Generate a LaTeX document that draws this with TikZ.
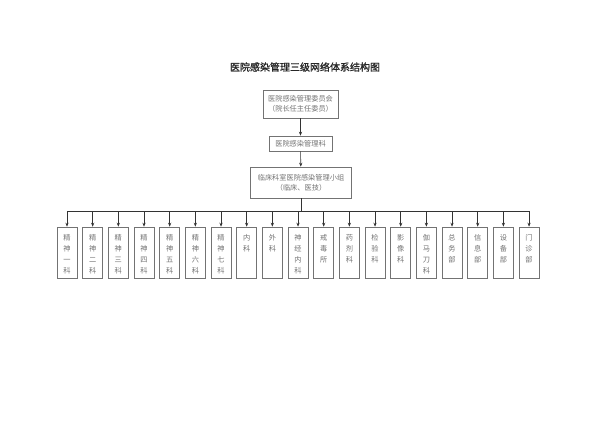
\documentclass[tikz,border=0pt]{standalone}
\usepackage{fontspec}
\newfontfamily\cjk{Noto Sans CJK SC}
\newfontfamily\cjkhead[FakeBold=1.2]{Noto Sans CJK SC}
\usetikzlibrary{arrows.meta,shadows}

\tikzset{
  box/.style={draw=black!55, line width=0.6pt, fill=white, inner sep=1pt, align=center,
    text=black!55, font=\cjk\fontsize{7.2}{10}\selectfont,
    drop shadow={shadow xshift=0.7pt, shadow yshift=-0.7pt, fill=black!45, opacity=1}},
  unit/.style={box, minimum width=20pt, minimum height=51pt, inner sep=0pt},
  link/.style={draw=black!80, line width=0.6pt},
  arr/.style={link, -{Stealth[length=4pt,width=3.2pt]}}
}

\begin{document}
\begin{tikzpicture}[x=1pt,y=-1pt]
  \useasboundingbox (0,0) rectangle (600,424);
  \node[font=\cjkhead\fontsize{10}{12}\selectfont, text=black!85] (title) at (305,67) {医院感染管理三级网络体系结构图};
  \node[box, minimum width=75pt, minimum height=28pt] (comm) at (300.5,104)
    {医院感染管理委员会\\（院长任主任委员）};
  \node[box, minimum width=63pt, minimum height=15pt] (dept) at (300.5,143.5) {医院感染管理科};
  \node[box, minimum width=101pt, minimum height=31pt] (grp) at (301,182.5)
    {临床科室医院感染管理小组\\（临床、医技）};
  \draw[arr] (comm) -- (dept);
  \draw[arr] (dept) -- (grp);
  \coordinate (bus) at (301,211);
  \draw[link] (grp.south) -- (bus);
  \foreach \t [count=\i] in {{精\\神\\一\\科},{精\\神\\二\\科},{精\\神\\三\\科},{精\\神\\四\\科},
      {精\\神\\五\\科},{精\\神\\六\\科},{精\\神\\七\\科},{内\\科},{外\\科},{神\\经\\内\\科},
      {戒\\毒\\所},{药\\剂\\科},{检\\验\\科},{影\\像\\科},{伽\\马\\刀\\科},{总\\务\\部},
      {信\\息\\部},{设\\备\\部},{门\\诊\\部}}
    \node[unit] (u\i) at ({67+25.67*(\i-1)},252.5)
      {\parbox[c][36pt][t]{9pt}{\centering\baselineskip=11pt \t}};
  \draw[link] (u1.north |- bus) -- (u19.north |- bus);
  \foreach \i in {1,...,19}
    \draw[arr] (u\i.north |- bus) -- (u\i.north);
\end{tikzpicture}
\end{document}
